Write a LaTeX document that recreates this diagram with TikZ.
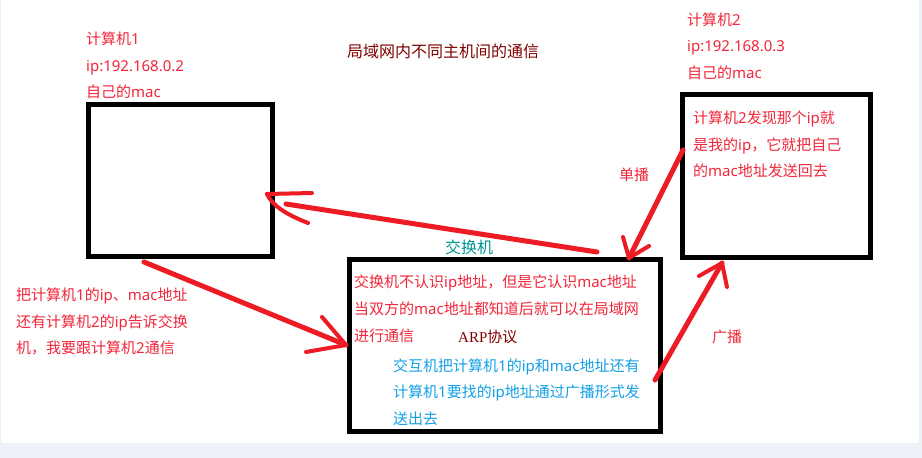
\documentclass[tikz,border=0pt]{standalone}
\usepackage{fontspec}
\newfontfamily\cjk{Noto Sans CJK SC}
\newfontfamily\lat{Noto Sans}
\newfontfamily\serifen{Liberation Serif}
\newcommand\lt[1]{{\lat #1}}
\definecolor{txtred}{RGB}{242,38,58}
\definecolor{arrowred}{RGB}{237,28,36}
\definecolor{titlecol}{RGB}{128,0,0}
\definecolor{tealcol}{RGB}{0,150,150}
\definecolor{bluecol}{RGB}{20,160,230}
\definecolor{bgcol}{RGB}{238,242,248}
\tikzset{
  boxnode/.style={draw=black, line width=5pt, inner sep=0pt, fill=white},
  txt/.style={anchor=base west, inner sep=0pt, font=\cjk\fontsize{15}{18}\selectfont},
  redtxt/.style={txt, text=txtred},
  bluetxt/.style={txt, text=bluecol},
  arr/.style={draw=arrowred, line width=5pt, line cap=round, line join=round},
  barb/.style={draw=arrowred, line width=4pt, line cap=round, line join=round}
}
\begin{document}
\begin{tikzpicture}[x=1pt,y=-1pt]
\useasboundingbox (0,0) rectangle (922,458);
\fill[bgcol] (0,0) rectangle (922,458);
\fill[white] (1,0) rectangle (919,443);

% boxes
\node[boxnode, minimum width=183.5pt, minimum height=151.5pt] (pc1) at (180.25,180.25) {};
\node[boxnode, minimum width=188pt, minimum height=162.5pt] (pc2) at (776.5,175.75) {};
\node[boxnode, minimum width=311.5pt, minimum height=172pt] (sw) at (504.75,345.5) {};

% title
\node[txt, text=titlecol, font=\cjk\fontsize{16}{18}\selectfont] (title) at (347,57) {局域网内不同主机间的通信};

% computer 1 labels
\node[redtxt] (pc1a) at (86,44) {计算机\lt{1}};
\node[redtxt] (pc1b) at (86,71) {\lt{ip:192.168.0.2}};
\node[redtxt] (pc1c) at (86,97) {自己的\lt{mac}};

% computer 2 labels
\node[redtxt] (pc2a) at (687,25) {计算机\lt{2}};
\node[redtxt] (pc2b) at (687,51) {\lt{ip:192.168.0.3}};
\node[redtxt] (pc2c) at (687,78) {自己的\lt{mac}};

% computer 2 box text
\node[redtxt] (pc2t1) at (693,123) {计算机\lt{2}发现那个\lt{ip}就};
\node[redtxt] (pc2t2) at (693,150) {是我的\lt{ip}，它就把自己};
\node[redtxt] (pc2t3) at (693,176) {的\lt{mac}地址发送回去};

% switch label
\node[txt, text=tealcol, font=\cjk\fontsize{16}{18}\selectfont] (swlab) at (445,253) {交换机};

% switch text
\node[redtxt] (sw1) at (354,287) {交换机不认识\lt{ip}地址，但是它认识\lt{mac}地址};
\node[redtxt] (sw2) at (354,314) {当双方的\lt{mac}地址都知道后就可以在局域网};
\node[redtxt] (sw3) at (354,341) {进行通信};
\node[txt, text=titlecol, font=\fontsize{15}{18}\selectfont] (arp) at (458,342) {{\serifen ARP}{\cjk 协议}};
\node[bluetxt] (sw4) at (393,371) {交互机把计算机\lt{1}的\lt{ip}和\lt{mac}地址还有};
\node[bluetxt] (sw5) at (393,397) {计算机\lt{1}要找的\lt{ip}地址通过广播形式发};
\node[bluetxt] (sw6) at (393,424) {送出去};

% left text
\node[redtxt] (l1) at (16,300) {把计算机\lt{1}的\lt{ip}、\lt{mac}地址};
\node[redtxt] (l2) at (16,327) {还有计算机\lt{2}的\lt{ip}告诉交换};
\node[redtxt] (l3) at (16,353) {机，我要跟计算机\lt{2}通信};

% arrow labels
\node[redtxt] (uni) at (619,180) {单播};
\node[redtxt] (bro) at (712,342) {广播};

% arrow: switch -> pc1
\coordinate (aS) at (597,252);
\coordinate (aE) at (286,204);
\coordinate (aT) at (267,194);
\draw[arr] (aS) -- (aE);
\draw[barb] (312,193) -- (aT);
\draw[barb] (aT) .. controls (272,205) and (285,214) .. (308,223);

% arrow: pc1 -> switch
\coordinate (bS) at (144,262);
\coordinate (bT) at (346,345);
\draw[arr] (bS) -- (bT);
\draw[barb] (322,317) -- (bT);
\draw[barb] (306,352) -- (bT);

% arrow: pc2 -> switch (unicast)
\coordinate (cS) at (683,150);
\coordinate (cT) at (629,258);
\draw[arr] (cS) -- (cT);
\draw[barb] (623,237) -- (cT);
\draw[barb] (649,246) -- (cT);

% arrow: switch -> pc2 (broadcast)
\coordinate (dS) at (655,380);
\coordinate (dT) at (722,263);
\draw[arr] (dS) -- (dT);
\draw[barb] (699,276) -- (dT);
\draw[barb] (727,287) -- (dT);
\end{tikzpicture}
\end{document}
